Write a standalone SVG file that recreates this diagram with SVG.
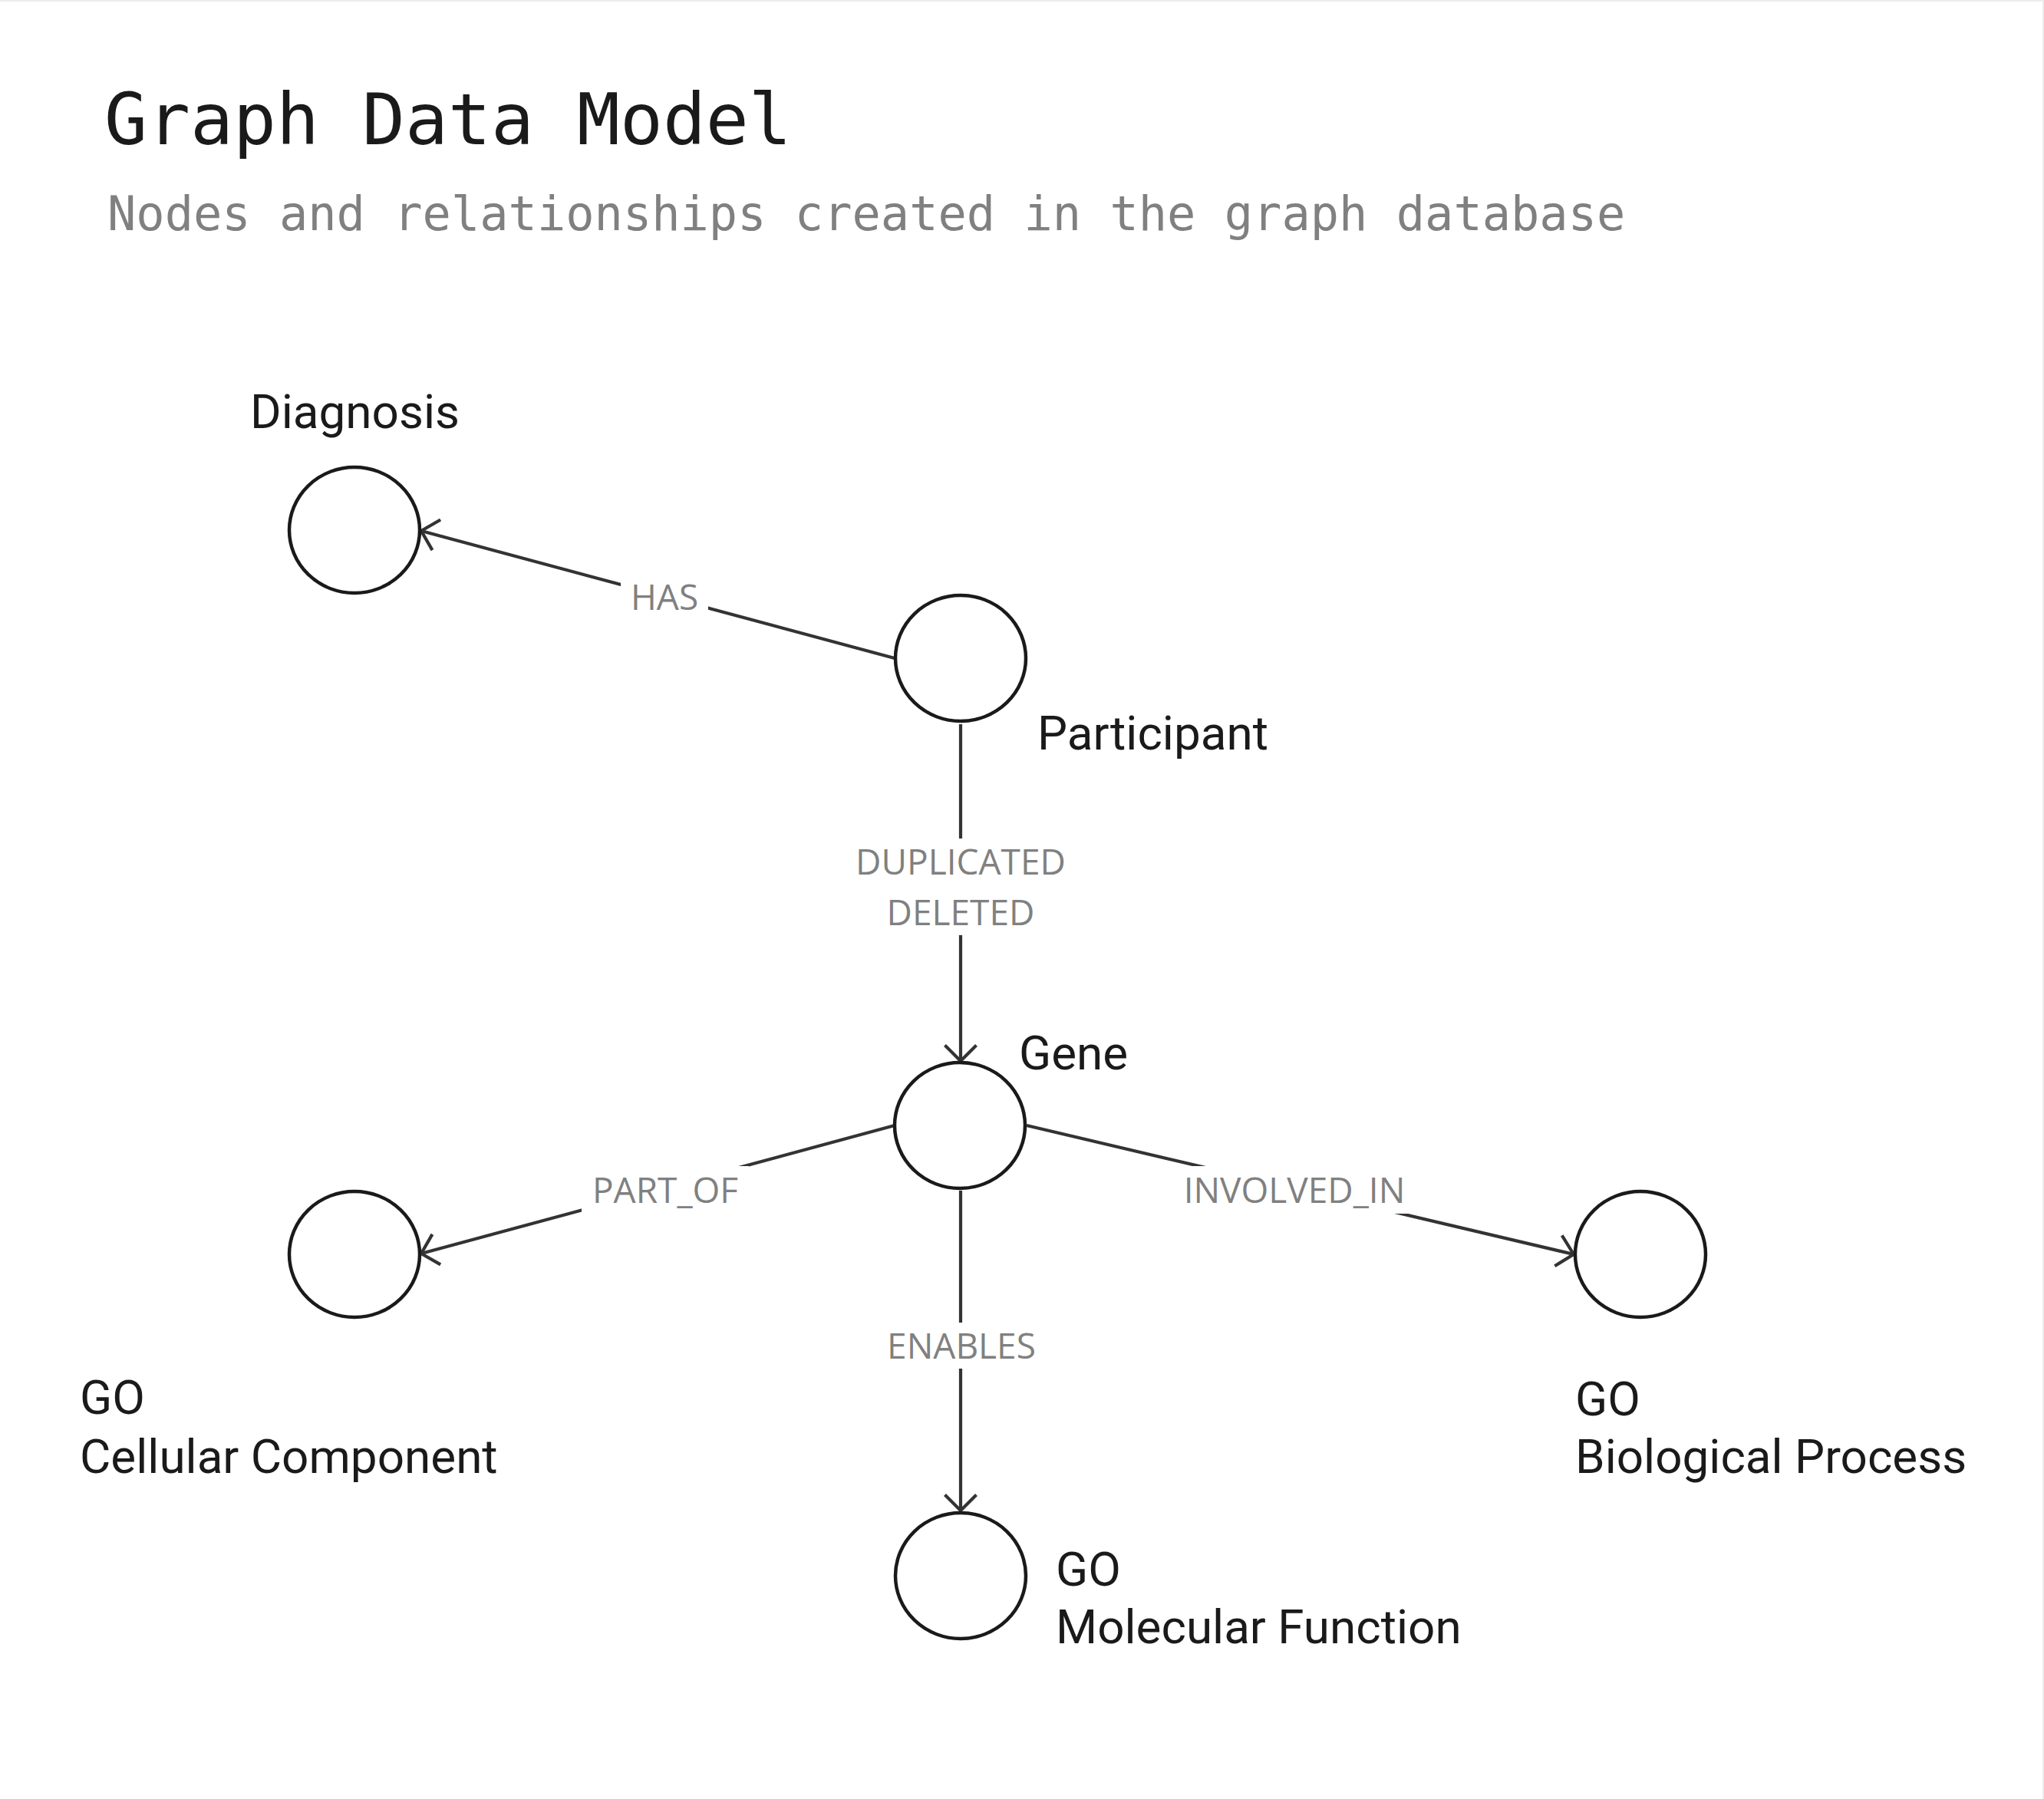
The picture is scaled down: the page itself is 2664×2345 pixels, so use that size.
<svg xmlns="http://www.w3.org/2000/svg" width="2664" height="2345" viewBox="0 0 2664 2345">
<defs>
<style>
.title{font-family:"DejaVu Sans Mono","Liberation Mono",monospace;font-size:93px;fill:#1a1a1a}
.sub{font-family:"DejaVu Sans Mono","Liberation Mono",monospace;font-size:62px;fill:#808080}
.node{fill:#ffffff;stroke:#1a1a1a;stroke-width:4.5}
.nlabel{font-family:Roboto,"Noto Sans",sans-serif;font-size:62px;fill:#1a1a1a}
.edge{fill:none;stroke:#333333;stroke-width:4.2}
.elabel{font-family:"Open Sans","Noto Sans",sans-serif;font-size:46px;fill:#808080;text-anchor:middle}
.lbg{fill:#ffffff;stroke:none}
</style>
<marker id="arrow" markerUnits="userSpaceOnUse" markerWidth="40" markerHeight="50" viewBox="-25 -25 30 50" refX="0" refY="0" orient="auto">
<path d="M-20.5,-20.5 L0,0 L-20.5,20.5" fill="none" stroke="#333333" stroke-width="4.2"/>
</marker>
</defs>
<rect x="0" y="0" width="2664" height="2345" fill="#ffffff"/>
<path d="M0,1 H2663 V2345" fill="none" stroke="#ececec" stroke-width="2"/>
<text class="title" x="136" y="188">Graph Data Model</text>
<text class="sub" x="140" y="300">Nodes and relationships created in the graph database</text>
<g id="connectors">
<line class="edge" x1="1166" y1="858" x2="549" y2="692" marker-end="url(#arrow)"/>
<line class="edge" x1="1252" y1="944" x2="1252" y2="1383" marker-end="url(#arrow)"/>
<line class="edge" x1="1166" y1="1467" x2="549" y2="1634" marker-end="url(#arrow)"/>
<line class="edge" x1="1338" y1="1467" x2="2051" y2="1635" marker-end="url(#arrow)"/>
<line class="edge" x1="1252" y1="1552" x2="1252" y2="1969" marker-end="url(#arrow)"/>
<rect class="lbg" x="809" y="749" width="114" height="60"/>
<text class="elabel" x="866" y="795">HAS</text>
<rect class="lbg" x="1102" y="1093" width="300" height="126"/>
<text class="elabel" x="1252" y="1140">DUPLICATED</text>
<text class="elabel" x="1252" y="1206">DELETED</text>
<rect class="lbg" x="758" y="1520" width="218" height="62"/>
<text class="elabel" x="867" y="1568">PART_OF</text>
<rect class="lbg" x="1528" y="1520" width="318" height="62"/>
<text class="elabel" x="1687" y="1568">INVOLVED_IN</text>
<rect class="lbg" x="1143" y="1724" width="220" height="60"/>
<text class="elabel" x="1253" y="1771">ENABLES</text>
</g>
<g id="diagnosis">
<ellipse class="node" cx="462" cy="691" rx="85" ry="82"/>
<text class="nlabel" x="326" y="558">Diagnosis</text>
</g>
<g id="participant">
<ellipse class="node" cx="1252" cy="858" rx="85" ry="82"/>
<text class="nlabel" x="1352" y="977">Participant</text>
</g>
<g id="gene">
<ellipse class="node" cx="1251" cy="1467" rx="85" ry="82"/>
<text class="nlabel" x="1328" y="1394">Gene</text>
</g>
<g id="go-cellular-component">
<ellipse class="node" cx="462" cy="1635" rx="85" ry="82"/>
<text class="nlabel" x="104" y="1843">GO</text>
<text class="nlabel" x="104" y="1920">Cellular Component</text>
</g>
<g id="go-biological-process">
<ellipse class="node" cx="2138" cy="1635" rx="85" ry="82"/>
<text class="nlabel" x="2053" y="1845">GO</text>
<text class="nlabel" x="2053" y="1920">Biological Process</text>
</g>
<g id="go-molecular-function">
<ellipse class="node" cx="1252" cy="2054" rx="85" ry="82"/>
<text class="nlabel" x="1376" y="2067">GO</text>
<text class="nlabel" x="1376" y="2142">Molecular Function</text>
</g>
</svg>
